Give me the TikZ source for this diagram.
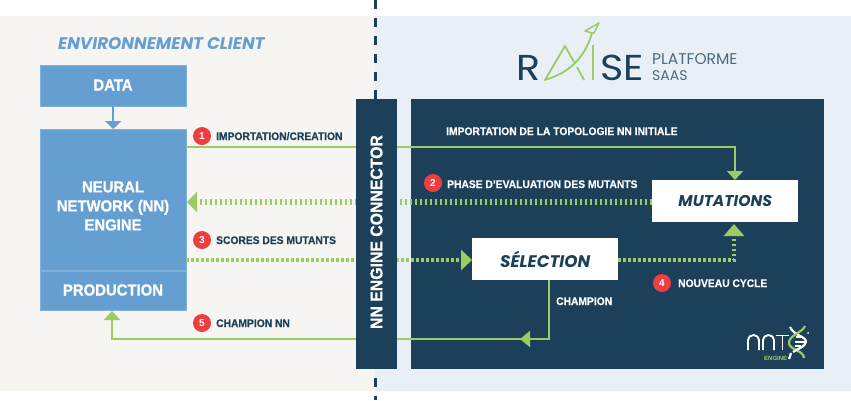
\documentclass[tikz,border=0pt]{standalone}
\usepackage{fontspec}
\usetikzlibrary{arrows.meta}
\setmainfont{Liberation Sans}
\newfontfamily\labf[FakeStretch=0.935,BoldFeatures={FakeBold=0.3}]{Liberation Sans}
\newfontfamily\labh[FakeStretch=0.93,BoldFeatures={FakeBold=0.8}]{Liberation Sans}
\newfontfamily\popf[BoldFeatures={FakeBold=0.4}]{Poppins}
\newfontfamily\popw[FakeStretch=1.1]{Poppins}
\definecolor{navy}{HTML}{1C4059}
\definecolor{grn}{HTML}{9DCB63}
\definecolor{blu}{HTML}{659FD1}
\definecolor{bluedge}{HTML}{7FB0DA}
\definecolor{redb}{HTML}{EE3E42}
\definecolor{beige}{HTML}{F6F5F1}
\definecolor{pale}{HTML}{E8EFF7}
\definecolor{slate}{HTML}{4A6A80}
\tikzset{
 x=1pt,y=-1pt,
 panel/.style={fill=navy,draw=none},
 bluebox/.style={fill=blu,draw=bluedge,line width=.4pt,text=white,inner sep=0,anchor=north west,minimum width=146pt},
 bluetext/.style={text=white,font=\labh\bfseries\fontsize{16}{19}\selectfont,align=center,inner sep=0},
 whitebox/.style={fill=white,draw=none,text=navy,font=\popf\bfseries\itshape\fontsize{15.6}{16}\selectfont,inner sep=0,anchor=north west,minimum width=146pt,minimum height=42pt},
 badge/.style={circle,fill=redb,text=white,inner sep=0,minimum size=18pt,font=\bfseries\fontsize{10}{10}\selectfont},
 lab/.style={anchor=base west,inner sep=0,font=\labf\bfseries\fontsize{11}{11}\selectfont,text=navy},
 labw/.style={lab,text=white},
 solidg/.style={draw=grn,line width=2.2pt},
 dotthick/.style={draw=grn,line width=5.5pt,dash pattern=on 2.5pt off 2.5pt},
 dotthin/.style={draw=grn,line width=3.6pt,dash pattern=on 2.5pt off 2.5pt},
 tip/.style={-{Triangle[length=#1,width=20pt]}},
 tip/.default=10pt,
}
\begin{document}
\begin{tikzpicture}
\useasboundingbox (0,0) rectangle (851,400);
\fill[white] (0,0) rectangle (851,400);
\fill[beige] (0,16) rectangle (375,391);
\fill[pale] (375,16) rectangle (851,391);
\draw[navy,line width=3pt,dash pattern=on 9pt off 9pt] (375.5,0) -- (375.5,400);
% panels
\fill[panel] (411,99) rectangle (824,369);
% blue boxes
\node[bluebox,minimum height=41pt] (data) at (40,65) {};
\node[bluetext] (datat) at (113,85) {DATA};
\node[bluebox,minimum height=141pt] (neural) at (40,129) {};
\node[bluetext] (neuralt) at (113,206) {NEURAL\\NETWORK (NN)\\ENGINE};
\node[bluebox,minimum height=39pt] (prod) at (40,271) {};
\node[bluetext] (prodt) at (113,290) {PRODUCTION};
\draw[blu,line width=2.5pt,-{Triangle[length=8pt,width=16pt]}] (data.south) -- (neural.north);
% white boxes
\node[whitebox] (mut) at (652,180) {MUTATIONS};
\node[whitebox,font=\popf\bfseries\itshape\fontsize{16.8}{17}\selectfont] (sel) at (472,238) {SÉLECTION};
% connectors
\coordinate (a1) at (186,147);
\coordinate (a2) at (735,147);
\draw[solidg,-{Triangle[length=9pt,width=16pt]}] (a1) -- (a2) -- (a2 |- mut.north);
\coordinate (b1) at (652,202);
\coordinate (b2) at (187,202);
\draw[dotthick,tip=10pt] (b1) -- (b2);
\coordinate (c1) at (186,260);
\draw[dotthin,tip=11pt] (c1) -- (sel.west |- c1);
\coordinate (d1) at (618,260);
\coordinate (d2) at (734,260);
\draw[dotthick,line width=4.5pt,tip=12pt] (d1) -- (d2) -- (734,224);
\coordinate (e1) at (549,280);
\coordinate (e2) at (549,339);
\coordinate (e3) at (520,339);
\draw[solidg,-{Triangle[length=10pt,width=16pt]}] (e1) -- (e2) -- (e3);
\coordinate (e4) at (530,339);
\coordinate (f1) at (356,339);
\coordinate (f2) at (112,339);
\draw[solidg] (e4) -- (f1);
\draw[solidg,-{Triangle[length=9pt,width=16pt]}] (f1) -- (f2) -- (112,311);
% connector bar drawn over the lines
\node[panel,inner sep=0,anchor=north west,minimum width=41pt,minimum height=270pt] (conn) at (356,99) {};
\node[rotate=90,text=white,font=\labh\bfseries\fontsize{17}{18}\selectfont,inner sep=0] (connt) at (376.5,232) {NN ENGINE CONNECTOR};
% badges and labels
\node[badge] (n1) at (202,136) {1};
\node[badge] (n2) at (433,183) {2};
\node[badge] (n3) at (202,240) {3};
\node[badge] (n4) at (662,283) {4};
\node[badge] (n5) at (202,323) {5};
\node[lab] (l1) at (216,140) {IMPORTATION/CREATION};
\node[labw] (l0) at (446,135) {IMPORTATION DE LA TOPOLOGIE NN INITIALE};
\node[labw] (l2) at (447,188) {PHASE D’EVALUATION DES MUTANTS};
\node[lab] (l3) at (216,244) {SCORES DES MUTANTS};
\node[labw] (l4) at (678,287) {NOUVEAU CYCLE};
\node[lab] (l5) at (216,327) {CHAMPION NN};
\node[labw] (l6) at (556,305) {CHAMPION};
% headings
\node[anchor=base west,inner sep=0,text=blu,font=\popf\bfseries\itshape\fontsize{16.85}{17}\selectfont] (env) at (58,49) {ENVIRONNEMENT CLIENT};
% RAISE logo
\node[anchor=base west,inner sep=0,text=navy,font=\popw\fontsize{36}{36}\selectfont] (lr) at (516,80) {R};
\node[anchor=base west,inner sep=0,text=navy,font=\popw\fontsize{36}{36}\selectfont] (lse) at (600,80) {SE};
\node[anchor=base west,inner sep=0,text=slate,font=\popf\fontsize{15.5}{15}\selectfont] (lp) at (652,64) {PLATFORME};
\node[anchor=base west,inner sep=0,text=slate,font=\popf\fontsize{14}{15}\selectfont] (ls) at (652,80) {SAAS};
\draw[grn,line width=1.8pt,line join=round] (574,62) -- (565,46) -- (545,80);
\draw[grn,line width=1.8pt] (577,67) -- (584,80);
\draw[grn,line width=1.8pt] (544,80) .. controls (568,74) and (585,58) .. (592,33);
\draw[grn,line width=1.8pt] (593,45) -- (593,80);
\draw[grn,line width=1.5pt,line join=round] (599,23) -- (585,31) -- (592,33) -- (594,33) -- cycle;
% NNT logo
\draw[white,line width=1.9pt,line join=round] (748,350) -- (748,340) arc[start angle=180,end angle=0,x radius=5.5,y radius=-5] -- (759,350);
\draw[white,line width=1.9pt,line join=round] (763,350) -- (763,340) arc[start angle=180,end angle=0,x radius=5.5,y radius=-5] -- (774,350);
\draw[white,line width=1.9pt] (776,335.5) -- (789,335.5) (782.5,335.5) -- (782.5,350);
\draw[white,line width=2.2pt] (790,327) .. controls (794,336) and (806,336) .. (806,342);
\draw[white,line width=1.2pt] (796,337) -- (803,337) (795,342) -- (805,342) (795,346) -- (801,346);
\draw[grn,line width=2.2pt] (805,326) .. controls (803,332) and (790,335) .. (789,342) .. controls (788,350) and (804,350) .. (804,358);
\draw[white,line width=2.2pt] (806,342) .. controls (805,347) and (797,349) .. (793,352);
\draw[white,line width=2.2pt] (791,353) -- (789,359);
\fill[white] (808,333) circle (1pt);
\node[anchor=base west,inner sep=0,text=grn,font=\bfseries\fontsize{6}{6}\selectfont] (eng) at (764,360) {ENGINE};
\end{tikzpicture}
\end{document}
